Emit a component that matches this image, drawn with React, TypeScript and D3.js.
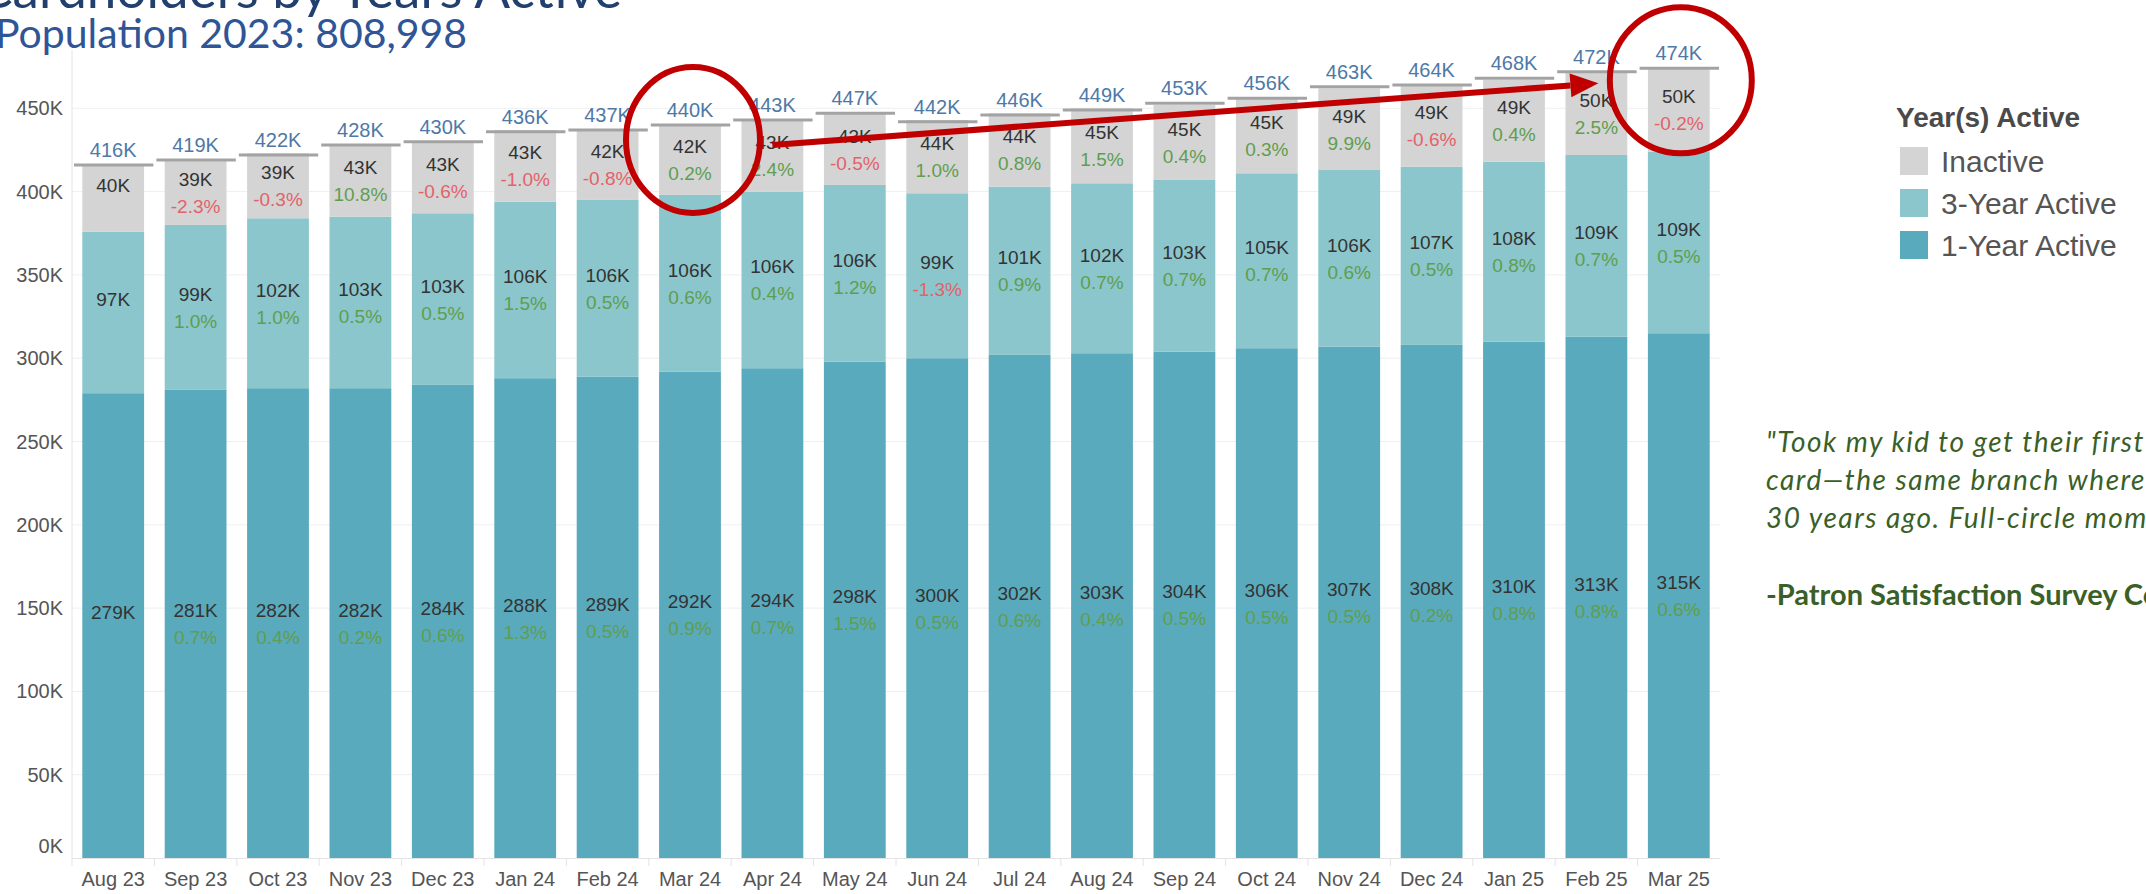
import * as d3 from "d3";

const months = [
  "Aug 23", "Sep 23", "Oct 23", "Nov 23", "Dec 23", "Jan 24", "Feb 24",
  "Mar 24", "Apr 24", "May 24", "Jun 24", "Jul 24", "Aug 24", "Sep 24",
  "Oct 24", "Nov 24", "Dec 24", "Jan 25", "Feb 25", "Mar 25",
];

// values in thousands
const oneYear = [279, 281, 282, 282, 284, 288, 289, 292, 294, 298, 300, 302, 303, 304, 306, 307, 308, 310, 313, 315];
const threeYear = [97, 99, 102, 103, 103, 106, 106, 106, 106, 106, 99, 101, 102, 103, 105, 106, 107, 108, 109, 109];
const inactive = [40, 39, 39, 43, 43, 43, 42, 42, 43, 43, 44, 44, 45, 45, 45, 49, 49, 49, 50, 50];
const totals = [416, 419, 422, 428, 430, 436, 437, 440, 443, 447, 442, 446, 449, 453, 456, 463, 464, 468, 472, 474];

// month-over-month change, %
const oneYearPct = [null, 0.7, 0.4, 0.2, 0.6, 1.3, 0.5, 0.9, 0.7, 1.5, 0.5, 0.6, 0.4, 0.5, 0.5, 0.5, 0.2, 0.8, 0.8, 0.6];
const threeYearPct = [null, 1.0, 1.0, 0.5, 0.5, 1.5, 0.5, 0.6, 0.4, 1.2, -1.3, 0.9, 0.7, 0.7, 0.7, 0.6, 0.5, 0.8, 0.7, 0.5];
const inactivePct = [null, -2.3, -0.3, 10.8, -0.6, -1.0, -0.8, 0.2, 2.4, -0.5, 1.0, 0.8, 1.5, 0.4, 0.3, 9.9, -0.6, 0.4, 2.5, -0.2];

const yTicks = [0, 50, 100, 150, 200, 250, 300, 350, 400, 450];

const legendItems = [
  { key: "inactive", label: "Inactive", color: "#d4d4d4" },
  { key: "threeYear", label: "3-Year Active", color: "#8ac6cc" },
  { key: "oneYear", label: "1-Year Active", color: "#5aaabd" },
];

const quoteLines = [
  "\"Took my kid to get their first library",
  "card\u2014the same branch where I got mine",
  "30 years ago. Full-circle moment!\"",
];

const W = 2146;
const H = 894;
const FONT = "'Liberation Sans', Arial, sans-serif";
const RED = "#c00000";

const fmtPct = (v: number) => `${v.toFixed(1)}%`;
const pctColor = (v: number) => (v < 0 ? "#e3626a" : "#5f9e4f");

export default function App() {
  const x = d3
    .scaleBand<string>()
    .domain(months)
    .range([72, 1720])
    .paddingInner(0.25)
    .paddingOuter(0.125);
  const y = d3.scaleLinear().domain([0, 485]).range([858, 50]);
  const bw = x.bandwidth();
  const step = x.step();

  const rows = months.map((m, i) => ({
    month: m,
    oneYear: oneYear[i],
    threeYear: threeYear[i],
    inactive: inactive[i],
  }));
  const stack = d3.stack<any>().keys(["oneYear", "threeYear", "inactive"]);
  const series = stack(rows);
  const pcts: Record<string, (number | null)[]> = {
    oneYear: oneYearPct,
    threeYear: threeYearPct,
    inactive: inactivePct,
  };
  const colorOf: Record<string, string> = {};
  legendItems.forEach((l) => (colorOf[l.key] = l.color));

  const cx = (m: string) => (x(m) || 0) + bw / 2;

  // annotation anchors derived from the scales
  const arrowStart: [number, number] = [cx("Apr 24"), y(428)];
  const arrowEnd: [number, number] = [cx("Feb 25") + 2, y(465)];
  const ang = Math.atan2(arrowEnd[1] - arrowStart[1], arrowEnd[0] - arrowStart[0]);
  const headLen = 28;
  const headHalf = 12;
  const hb: [number, number] = [arrowEnd[0] - headLen * Math.cos(ang), arrowEnd[1] - headLen * Math.sin(ang)];
  const head = [
    arrowEnd,
    [hb[0] + headHalf * Math.sin(ang), hb[1] - headHalf * Math.cos(ang)],
    [hb[0] - headHalf * Math.sin(ang), hb[1] + headHalf * Math.cos(ang)],
  ];

  return (
    <svg
      width={W}
      height={H}
      style={{ position: "absolute", left: 0, top: 0, background: "#fff" }}
      fontFamily={FONT}
    >
      {/* titles */}
      <text x={622} y={8} textAnchor="end" fontFamily="Lato, sans-serif" fontSize={53} fill="#22406f">
        Cardholders by Years Active
      </text>
      <text x={-5} y={48} fontFamily="Lato, sans-serif" fontSize={41} fill="#2f5597">
        Population 2023: 808,998
      </text>

      {/* gridlines + y axis */}
      {yTicks.map((t) => (
        <g key={t}>
          {t > 0 && <line x1={72} x2={1720} y1={y(t)} y2={y(t)} stroke="#efefef" strokeWidth={1} />}
          <text
            x={63}
            y={t === 0 ? y(t) - 12 : y(t)}
            textAnchor="end"
            dominantBaseline="central"
            fontSize={20}
            fill="#555"
          >
            {t}K
          </text>
        </g>
      ))}
      <line x1={72} x2={72} y1={50} y2={858} stroke="#e4e4e4" />
      <line x1={72} x2={1720} y1={858.5} y2={858.5} stroke="#e4e4e4" />
      {months.map((m) => (
        <line
          key={"t" + m}
          x1={(x(m) || 0) - (step - bw) / 2}
          x2={(x(m) || 0) - (step - bw) / 2}
          y1={858}
          y2={866}
          stroke="#e4e4e4"
        />
      ))}

      {/* stacked bars */}
      {series.map((s) =>
        s.map((d, i) => (
          <rect
            key={s.key + i}
            x={x(months[i])}
            y={y(d[1])}
            width={bw}
            height={y(d[0]) - y(d[1])}
            fill={colorOf[s.key]}
          />
        ))
      )}

      {/* segment labels */}
      {series.map((s) =>
        s.map((d, i) => {
          const mid = (y(d[0]) + y(d[1])) / 2;
          const p = pcts[s.key][i];
          return (
            <g key={"l" + s.key + i}>
              <text x={cx(months[i])} y={mid - 13} textAnchor="middle" dominantBaseline="central" fontSize={19} fill="#333">
                {d[1] - d[0]}K
              </text>
              {p !== null && (
                <text x={cx(months[i])} y={mid + 14} textAnchor="middle" dominantBaseline="central" fontSize={19} fill={pctColor(p)}>
                  {fmtPct(p)}
                </text>
              )}
            </g>
          );
        })
      )}

      {/* totals */}
      {months.map((m, i) => (
        <g key={"tot" + m}>
          <line
            x1={cx(m) - step / 2 + 2}
            x2={cx(m) + step / 2 - 1}
            y1={y(totals[i])}
            y2={y(totals[i])}
            stroke="#a3a3a3"
            strokeWidth={3}
          />
          <text x={cx(m)} y={y(totals[i]) - 15} textAnchor="middle" dominantBaseline="central" fontSize={20} fill="#4e79a7">
            {totals[i]}K
          </text>
        </g>
      ))}

      {/* x axis labels */}
      {months.map((m) => (
        <text key={"x" + m} x={cx(m)} y={879} textAnchor="middle" dominantBaseline="central" fontSize={20} fill="#555">
          {m}
        </text>
      ))}

      {/* annotations */}
      <ellipse cx={cx("Mar 24") + 3} cy={y(440) + 15} rx={67} ry={73} fill="none" stroke={RED} strokeWidth={6} />
      <ellipse cx={cx("Mar 25") + 2} cy={y(474) + 12} rx={71} ry={73} fill="none" stroke={RED} strokeWidth={6} />
      <line x1={arrowStart[0]} y1={arrowStart[1]} x2={hb[0]} y2={hb[1]} stroke={RED} strokeWidth={6} />
      <polygon points={head.map((p) => p.join(",")).join(" ")} fill={RED} />

      {/* legend */}
      <text x={1896} y={127} fontSize={28} fontWeight={700} fill="#4a4a4a">
        Year(s) Active
      </text>
      {legendItems.map((l, i) => (
        <g key={l.key}>
          <rect x={1900} y={147 + i * 42} width={28} height={28} fill={l.color} />
          <text x={1941} y={161 + i * 42} dominantBaseline="central" fontSize={30} fill="#555">
            {l.label}
          </text>
        </g>
      ))}

      {/* quote */}
      {quoteLines.map((q, i) => (
        <text
          key={i}
          x={1766}
          y={452 + i * 38}
          fontFamily="Lato, sans-serif"
          fontStyle="italic"
          fontSize={28}
          letterSpacing={1.5}
          fill="#3a5f27"
        >
          {q}
        </text>
      ))}
      <text x={1766} y={605} fontFamily="Lato, sans-serif" fontWeight={700} fontSize={29} fill="#3a5f27">
        -Patron Satisfaction Survey Comment
      </text>
    </svg>
  );
}
